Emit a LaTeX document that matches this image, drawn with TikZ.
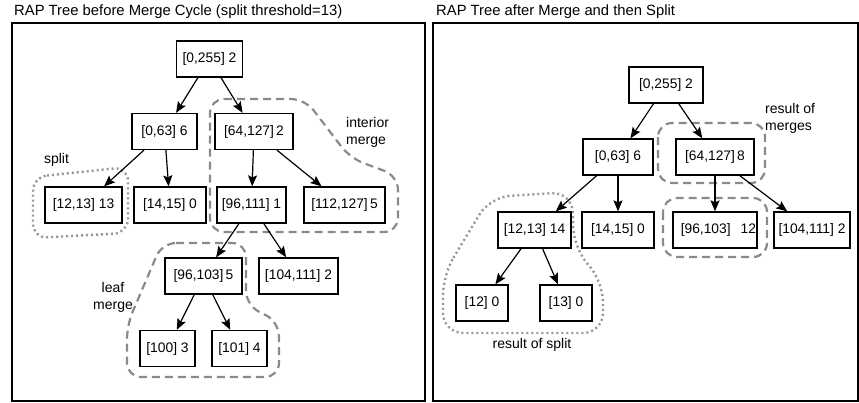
\documentclass[tikz,border=0pt]{standalone}
\usepackage{fontspec}
\setmainfont{Liberation Sans}
\usetikzlibrary{arrows.meta}
\definecolor{zonegray}{RGB}{138,138,138}
\definecolor{dotgray}{RGB}{150,150,150}
\begin{document}
\begin{tikzpicture}[x=1pt,y=-1pt,
  treebox/.style={draw, line width=1.3pt, minimum height=36pt, inner sep=0pt,
    font=\fontsize{13.8}{16}\selectfont},
  link/.style={-{Stealth[length=11pt,width=9pt,inset=2pt]}, line width=1.2pt},
  mergezone/.style={draw=zonegray, line width=2.2pt, dash pattern=on 8pt off 5pt,
    rounded corners=14pt},
  splitzone/.style={draw=dotgray, line width=2.4pt, dash pattern=on 2pt off 3pt,
    rounded corners=14pt},
  note/.style={font=\fontsize{14}{17}\selectfont, inner sep=0pt},
  caption/.style={font=\fontsize{14.8}{17}\selectfont, inner sep=0pt, anchor=west},
  panel/.style={draw, line width=1.3pt}]
\useasboundingbox (0,0) rectangle (859,402);

% captions and panel frames
\node[caption] (ltitle) at (14,12) {RAP Tree before Merge Cycle (split threshold=13)};
\node[caption] (rtitle) at (436,12) {RAP Tree after Merge and then Split};
\draw[panel] (12,23) rectangle (425,401);
\draw[panel] (433,23) rectangle (858,401);

% ---- left panel: regions ----
\draw[splitzone] (33,177) -- (128,167) -- (128,233) -- (33,238) -- cycle;
\draw[mergezone] (210,99) -- (305,99) -- (350,158) -- (398,176) -- (398,232)
  -- (210,232) -- cycle;
\draw[mergezone] (162,243) -- (246,243) -- (246,305) -- (279,322) -- (279,377)
  -- (127,377) -- (127,325) -- cycle;

% ---- left panel: tree ----
\node[treebox, minimum width=66pt] (Lroot) at (209.5,59) {[0,255] 2};
\node[treebox, minimum width=65pt] (La) at (164.5,131.5) {[0,63] 6};
\node[treebox, minimum width=78pt] (Lb) at (254,131.5) {[64,127]\,2};
\node[treebox, minimum width=77pt] (Laa) at (83.5,205) {[12,13] 13};
\node[treebox, minimum width=72pt] (Lab) at (170,205) {[14,15] 0};
\node[treebox, minimum width=69pt] (Lba) at (251.5,205) {[96,111] 1};
\node[treebox, minimum width=81pt] (Lbb) at (344.5,205) {[112,127]\,5};
\node[treebox, minimum width=77pt] (Lbaa) at (203.5,276) {[96,103]\,5};
\node[treebox, minimum width=79pt] (Lbab) at (298.5,276) {[104,111] 2};
\node[treebox, minimum width=55pt] (Lx) at (167.5,348.5) {[100] 3};
\node[treebox, minimum width=55pt] (Ly) at (239.5,348.5) {[101] 4};

\draw[link] (Lroot) -- (La);
\draw[link] (Lroot) -- (Lb);
\draw[link] (La) -- (Laa);
\draw[link] (La) -- (Lab);
\draw[link] (Lb) -- (Lba);
\draw[link] (Lb) -- (Lbb);
\draw[link] (Lba) -- (Lbaa);
\draw[link] (Lba) -- (Lbab);
\draw[link] (Lbaa) -- (Lx);
\draw[link] (Lbaa) -- (Ly);

\node[note] (splitlbl) at (56.5,160) {split};
\node[note, align=left, anchor=west] (intlbl) at (346,132) {interior\\merge};
\node[note, align=center] (leaflbl) at (113,297) {leaf\\merge};

% ---- right panel: regions ----
\draw[splitzone, rounded corners=20pt] (443,275) -- (490,197) -- (572,192)
  -- (574,248) -- (603,282) -- (603,333) -- (443,333) -- cycle;
\draw[mergezone] (658,123) rectangle (765,183);
\draw[mergezone] (663,198) rectangle (767,257);

% ---- right panel: tree ----
\node[treebox, minimum width=74pt] (Rroot) at (666,85) {[0,255] 2};
\node[treebox, minimum width=70pt] (Ra) at (618,157) {[0,63] 6};
\node[treebox, minimum width=78pt] (Rb) at (715,157) {[64,127]\,8};
\node[treebox, minimum width=73pt] (Raa) at (534.5,230) {[12,13] 14};
\node[treebox, minimum width=72pt] (Rab) at (618,230) {[14,15] 0};
\node[treebox, minimum width=84pt] (Rba) at (715,230)
  {\makebox[82pt][r]{[96,103]\hspace{10pt}12}};
\node[treebox, minimum width=76pt] (Rbb) at (812,230) {[104,111] 2};
\node[treebox, minimum width=52pt] (Raaa) at (482,303) {[12] 0};
\node[treebox, minimum width=52pt] (Raab) at (566,303) {[13] 0};

\draw[link] (Rroot) -- (Ra);
\draw[link] (Rroot) -- (Rb);
\draw[link] (Ra) -- (Raa);
\draw[link] (Ra) -- (Rab);
\draw[link] (Rb) -- (Rba);
\draw[link] (Rb) -- (Rbb);
\draw[link] (Raa) -- (Raaa);
\draw[link] (Raa) -- (Raab);

\node[note, align=left, anchor=west] (reslbl) at (765,118) {result of\\merges};
\node[note] (splitres) at (532,345) {result of split};
\end{tikzpicture}
\end{document}
